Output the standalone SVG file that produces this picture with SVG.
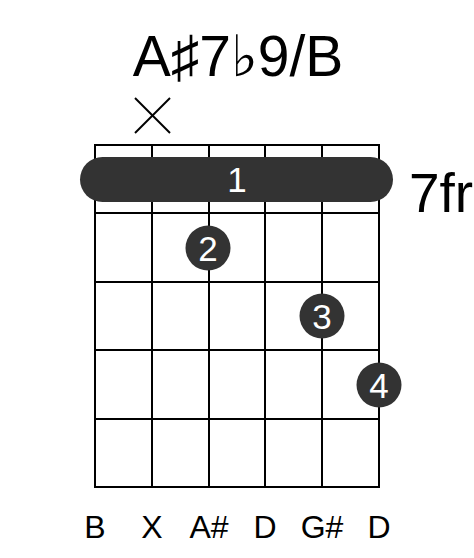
<svg xmlns="http://www.w3.org/2000/svg" width="474" height="558" viewBox="0 0 474 558">
<style>
.t{font-family:"Liberation Sans","DejaVu Sans",Arial,sans-serif;fill:#000}
.g line{stroke:#000;stroke-width:2}
.dot{fill:#333}
.fn{font-family:"Liberation Sans",Arial,sans-serif;fill:#fff;font-size:35px;text-anchor:middle}
.lb{font-family:"Liberation Sans",Arial,sans-serif;font-size:32px;text-anchor:middle;fill:#000}
</style>
<rect width="474" height="558" fill="#fff"/>
<text id="title" class="t" x="238" y="76" font-size="57" text-anchor="middle">A♯7♭9/B</text>
<g id="mute" stroke="#000" stroke-width="2">
<line x1="135" y1="98" x2="170" y2="133"/>
<line x1="170" y1="98" x2="135" y2="133"/>
</g>
<g id="grid" class="g">
<line x1="95" y1="145" x2="95" y2="488"/>
<line x1="152" y1="145" x2="152" y2="488"/>
<line x1="209" y1="145" x2="209" y2="488"/>
<line x1="265" y1="145" x2="265" y2="488"/>
<line x1="322" y1="145" x2="322" y2="488"/>
<line x1="379" y1="145" x2="379" y2="488"/>
<line x1="94" y1="145" x2="380" y2="145"/>
<line x1="94" y1="213" x2="380" y2="213"/>
<line x1="94" y1="282" x2="380" y2="282"/>
<line x1="94" y1="350" x2="380" y2="350"/>
<line x1="94" y1="419" x2="380" y2="419"/>
<line x1="94" y1="487" x2="380" y2="487"/>
</g>
<g id="barre">
<rect class="dot" x="80" y="157" width="313" height="45" rx="22.5"/>
<text class="fn" x="237" y="192">1</text>
</g>
<g id="finger2">
<circle class="dot" cx="208" cy="248" r="22.5"/>
<text class="fn" x="208" y="261">2</text>
</g>
<g id="finger3">
<circle class="dot" cx="322" cy="316" r="22.5"/>
<text class="fn" x="322" y="329">3</text>
</g>
<g id="finger4">
<circle class="dot" cx="379" cy="385" r="22.5"/>
<text class="fn" x="379" y="398">4</text>
</g>
<text id="fret" class="t" x="409" y="212" font-size="55">7fr</text>
<g id="labels">
<text class="lb" x="95" y="538">B</text>
<text class="lb" x="152" y="538">X</text>
<text class="lb" x="209" y="538">A#</text>
<text class="lb" x="265" y="538">D</text>
<text class="lb" x="322" y="538">G#</text>
<text class="lb" x="379" y="538">D</text>
</g>
</svg>
